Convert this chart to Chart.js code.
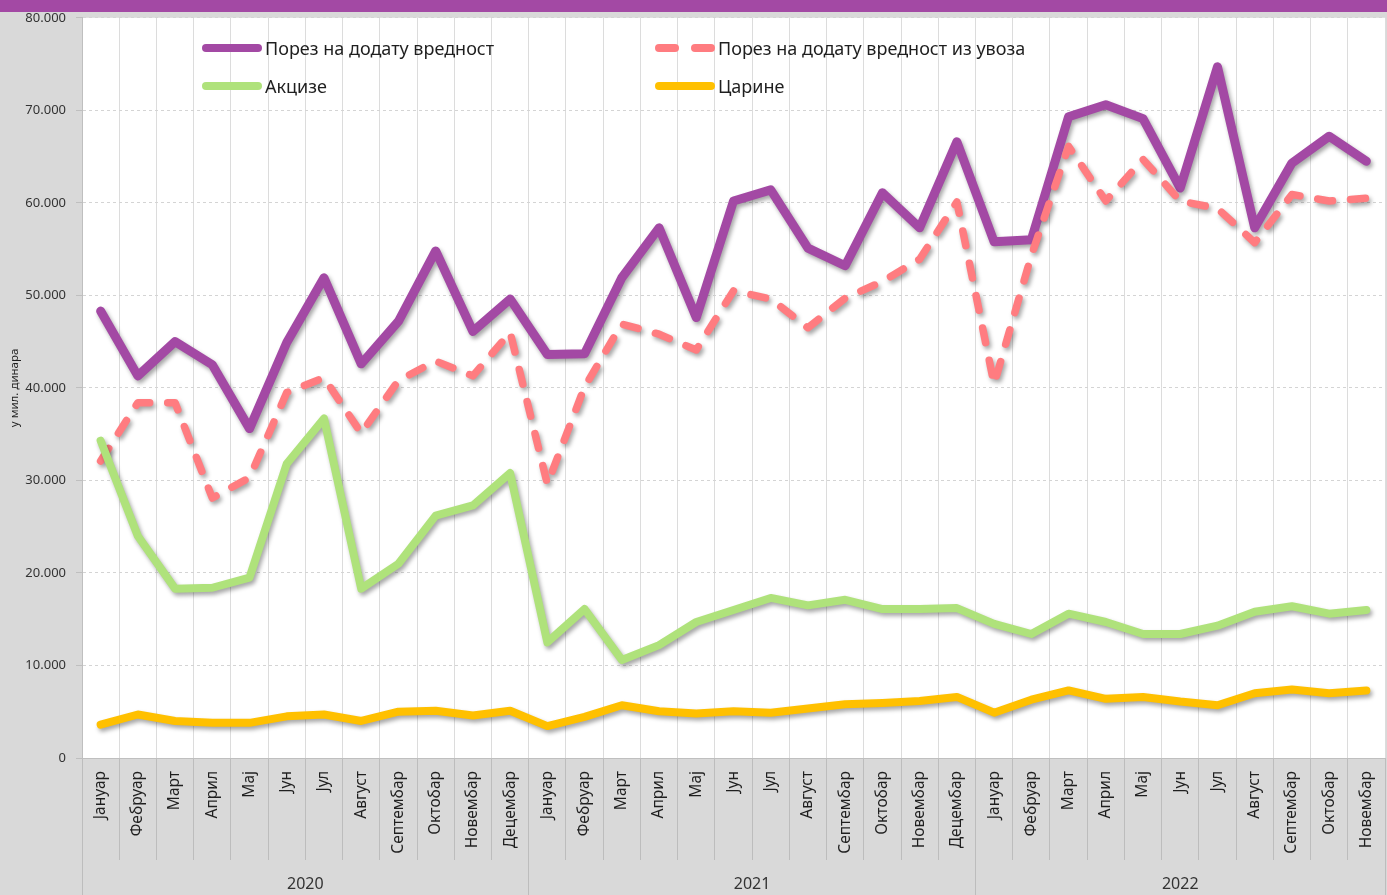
<!DOCTYPE html>
<html lang="sr">
<head>
<meta charset="utf-8">
<title>Порез на додату вредност, акцизе и царине</title>
<script src="https://cdn.jsdelivr.net/npm/chart.js@4.4.1/dist/chart.umd.min.js"></script>
<style>
  html, body { margin: 0; padding: 0; background: #d9d9d9; }
  #wrap { position: relative; width: 1387px; height: 895px; overflow: hidden; }
  #topBar { position: absolute; left: 0; top: 0; width: 1387px; height: 12px; background: #a349a4; z-index: 3; }
  #legend {
    position: absolute; left: 202px; top: 29px; z-index: 2;
    display: grid; grid-template-columns: 453px auto; grid-auto-rows: 38px;
    font-family: "Noto Sans", sans-serif; font-size: 18px; color: #1f1f1f;
  }
  .item { display: flex; align-items: center; white-space: nowrap; }
  .sample { display: flex; width: 60px; height: 8px; margin-right: 3px; justify-content: space-between; }
  .sample span { display: block; height: 8px; border-radius: 4px; }
</style>
</head>
<body>
<div id="wrap">
  <div id="topBar"></div>
  <div id="legend"></div>
  <canvas id="taxChart" width="1387" height="895"></canvas>
</div>
<script>
// month names, repeated per year on the axis
const monthNames = ['Јануар', 'Фебруар', 'Март', 'Април', 'Мај', 'Јун', 'Јул', 'Август', 'Септембар', 'Октобар', 'Новембар', 'Децембар'];
const years = ['2020', '2021', '2022'];
const monthsPerYear = [12, 12, 11];

// values in мил. динара, Jan 2020 - Nov 2022
const pdv = [48300, 41300, 45000, 42500, 35600, 44900, 51900, 42600, 47200, 54800, 46100, 49600,
             43600, 43700, 51900, 57300, 47600, 60200, 61400, 55100, 53200, 61100, 57300, 66600,
             55800, 56000, 69300, 70600, 69100, 61600, 74700, 57300, 64300, 67200, 64500];
const pdvUvoz = [32100, 38400, 38400, 28100, 30300, 39500, 41100, 35100, 40800, 42900, 41300, 46000,
                 29600, 40100, 46900, 45800, 44100, 50500, 49600, 46500, 49700, 51500, 53900, 60100,
                 40400, 54300, 66100, 60200, 64700, 60200, 59400, 55700, 60900, 60200, 60500];
const akcize = [34300, 24000, 18300, 18400, 19500, 31800, 36700, 18300, 21000, 26200, 27300, 30800,
                12500, 16100, 10600, 12200, 14700, 16000, 17300, 16500, 17100, 16100, 16100, 16200,
                14500, 13400, 15600, 14700, 13400, 13400, 14300, 15800, 16400, 15600, 16000];
const carine = [3600, 4700, 4000, 3800, 3800, 4500, 4700, 4000, 5000, 5100, 4600, 5100,
                3450, 4450, 5700, 5050, 4800, 5050, 4900, 5350, 5800, 5950, 6150, 6600,
                4900, 6300, 7300, 6400, 6600, 6100, 5700, 7000, 7400, 7000, 7300];

const seriesNames = ['Порез на додату вредност', 'Порез на додату вредност из увоза', 'Акцизе', 'Царине'];

// category labels: month names for every year
const labels = [];
monthsPerYear.forEach(n => labels.push(...monthNames.slice(0, n)));

// year group boundaries and centres (in category index units)
const yearBounds = [-0.5];
const yearCentres = {};
let start = 0;
monthsPerYear.forEach((n, i) => {
    yearCentres[(start + start + n - 1) / 2] = years[i];
    start += n;
    yearBounds.push(start - 0.5);
});
const yearTicks = yearBounds.concat(Object.keys(yearCentres).map(Number)).sort((a, b) => a - b);

const fontFamily = '"Noto Sans", sans-serif';

function fmtThousands(v) {
    return String(v).replace(/\B(?=(\d{3})+(?!\d))/g, '.');
}

// white plot area on the grey page
const plotBackground = {
    id: 'plotBackground',
    beforeDraw(chart) {
        const { ctx, chartArea: a } = chart;
        ctx.save();
        ctx.fillStyle = '#ffffff';
        ctx.fillRect(a.left, a.top, a.width, a.height);
        ctx.restore();
    }
};

// soft drop shadow under the lines, like the office chart
const lineShadow = {
    id: 'lineShadow',
    beforeDatasetsDraw(chart) {
        const ctx = chart.ctx;
        ctx.save();
        ctx.shadowColor = 'rgba(0, 0, 0, 0.35)';
        ctx.shadowBlur = 4;
        ctx.shadowOffsetX = 2;
        ctx.shadowOffsetY = 3;
    },
    afterDatasetsDraw(chart) {
        chart.ctx.restore();
    }
};

const lineBase = {
    pointRadius: 0,
    pointHoverRadius: 0,
    tension: 0,
    borderJoinStyle: 'round',
    borderCapStyle: 'round',
    fill: false
};

const chart = new Chart(document.getElementById('taxChart'), {
    type: 'line',
    data: {
        labels: labels,
        datasets: [
            { ...lineBase, label: seriesNames[0], data: pdv, borderColor: '#a349a4', borderWidth: 9, order: 4 },
            { ...lineBase, label: seriesNames[1], data: pdvUvoz, borderColor: '#ff7c80', borderWidth: 7.5, borderDash: [15, 18], order: 3 },
            { ...lineBase, label: seriesNames[2], data: akcize, borderColor: '#afe27b', borderWidth: 8, order: 2 },
            { ...lineBase, label: seriesNames[3], data: carine, borderColor: '#ffc000', borderWidth: 8, order: 1 }
        ]
    },
    options: {
        responsive: false,
        animation: false,
        layout: { padding: { top: 16, right: 2, left: 0, bottom: 0 } },
        plugins: {
            legend: { display: false },
            tooltip: { enabled: false }
        },
        scales: {
            x: {
                type: 'category',
                offset: true,
                weight: 0,
                grid: { offset: true, color: '#dcdcdc', tickColor: '#bdbdbd', tickLength: 102 },
                border: { color: '#bfbfbf' },
                ticks: {
                    autoSkip: false, minRotation: 90, maxRotation: 90, padding: -89,
                    color: '#1f1f1f', font: { family: fontFamily, size: 15.5 }
                },
                afterFit: s => { s.height = 102; }
            },
            x2: {
                type: 'linear',
                position: 'bottom',
                weight: 1,
                min: -0.5,
                max: labels.length - 0.5,
                afterBuildTicks: s => { s.ticks = yearTicks.map(v => ({ value: v })); },
                grid: {
                    drawOnChartArea: false,
                    tickLength: 35,
                    color: c => (c.tick && yearBounds.includes(c.tick.value)) ? '#bdbdbd' : 'rgba(0,0,0,0)'
                },
                border: { display: false },
                ticks: {
                    autoSkip: false, maxRotation: 0, padding: -20,
                    color: '#333333', font: { family: fontFamily, size: 16 },
                    callback: v => yearCentres[v] || ''
                },
                afterFit: s => { s.height = 35; }
            },
            y: {
                min: 0,
                max: 80000,
                grid: { color: '#d4d4d4', tickColor: '#bfbfbf', tickLength: 6, tickBorderDash: [] },
                border: { color: '#bfbfbf', dash: [3, 3] },
                ticks: {
                    stepSize: 10000, padding: 10,
                    color: '#333333', font: { family: fontFamily, size: 13 },
                    callback: v => fmtThousands(v)
                },
                title: {
                    display: true, text: 'у мил. динара', padding: { top: 8, bottom: 0 },
                    color: '#1f1f1f', font: { family: fontFamily, size: 11.5 }
                },
                afterFit: s => { s.width = 82; }
            }
        }
    },
    plugins: [plotBackground, lineShadow]
});

// html legend, two columns inside the plot
const legendEl = document.getElementById('legend');
chart.data.datasets.forEach(ds => {
    const item = document.createElement('div');
    item.className = 'item';
    const sample = document.createElement('div');
    sample.className = 'sample';
    const parts = ds.borderDash ? 2 : 1;
    for (let i = 0; i < parts; i++) {
        const seg = document.createElement('span');
        seg.style.background = ds.borderColor;
        seg.style.width = parts === 1 ? '60px' : '24px';
        sample.appendChild(seg);
    }
    const text = document.createElement('span');
    text.textContent = ds.label;
    item.appendChild(sample);
    item.appendChild(text);
    legendEl.appendChild(item);
});
</script>
</body>
</html>
